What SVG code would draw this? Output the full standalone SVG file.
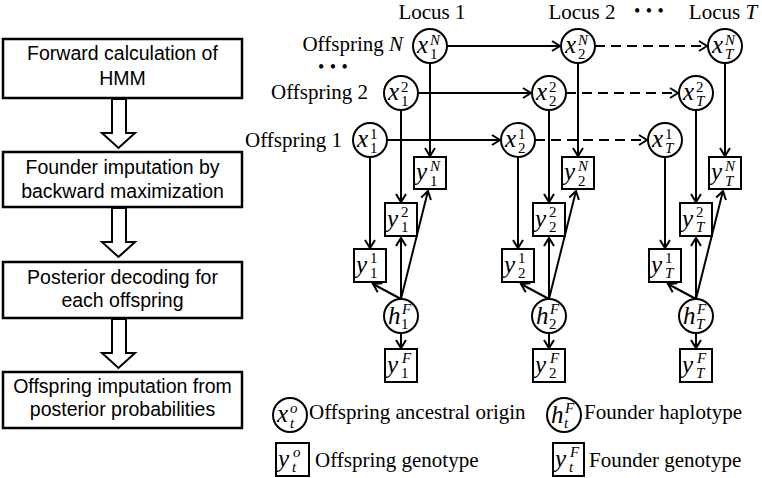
<svg xmlns="http://www.w3.org/2000/svg" width="762" height="478" viewBox="0 0 762 478">
<style>
.bx{fill:#fff;stroke:#000;stroke-width:2.5}
.ft{font-family:"Liberation Sans",Arial,sans-serif;font-size:19.5px;text-anchor:middle;fill:#000}
.ha{fill:#fff;stroke:#000;stroke-width:2;stroke-linejoin:miter}
.lb{font-family:"Liberation Serif","Times New Roman",serif;font-size:21px;fill:#000}
.nc{fill:#fff;stroke:#000;stroke-width:2}
.nb{fill:#fff;stroke:#000;stroke-width:2}
.m{font-family:"Liberation Serif","Times New Roman",serif;font-style:italic;font-size:25px;fill:#000}
.s{font-size:15px}
.sr{font-size:15px;font-style:normal}
.e{fill:none;stroke:#000;stroke-width:2}
.d{stroke-dasharray:10 6}
.dots{font-family:"Liberation Serif",serif;font-size:18px;letter-spacing:0.5px;fill:#000}
</style>
<defs>
<marker id="ar" markerUnits="userSpaceOnUse" markerWidth="12" markerHeight="12" viewBox="-10 -6 12 12" refX="0" refY="0" orient="auto">
<path d="M-8,-5 L0,0 L-8,5" fill="none" stroke="#000" stroke-width="2"/>
</marker>
</defs>

<!-- Flowchart -->
<g id="step1">
<rect class="bx" x="3" y="39" width="239" height="59"/>
<text class="ft" x="122.5" y="60">Forward calculation of</text>
<text class="ft" x="122.5" y="85">HMM</text>
</g>
<g id="step2">
<rect class="bx" x="3" y="152" width="239" height="55"/>
<text class="ft" x="122.5" y="174">Founder imputation by</text>
<text class="ft" x="122.5" y="198">backward maximization</text>
</g>
<g id="step3">
<rect class="bx" x="3" y="262" width="239" height="56"/>
<text class="ft" x="122.5" y="284">Posterior decoding for</text>
<text class="ft" x="122.5" y="307">each offspring</text>
</g>
<g id="step4">
<rect class="bx" x="3" y="372" width="239" height="56"/>
<text class="ft" x="122.5" y="393">Offspring imputation from</text>
<text class="ft" x="122.5" y="416">posterior probabilities</text>
</g>
<g id="flow-arrows">
<polygon class="ha" points="112,99 112,133 102,133 118.5,148 135,133 126,133 126,99"/>
<polygon class="ha" points="112,208 112,242 102,242 118.5,257 135,242 126,242 126,208"/>
<polygon class="ha" points="112,319 112,353 102,353 118.5,368 135,353 126,353 126,319"/>
</g>

<!-- Labels -->
<g id="labels">
<text class="lb" x="432" y="19" text-anchor="middle">Locus 1</text>
<text class="lb" x="582" y="19" text-anchor="middle">Locus 2</text>
<text class="dots" x="634" y="17">• • •</text>
<text class="lb" x="723" y="19" text-anchor="middle">Locus <tspan font-style="italic">T</tspan></text>
<text class="lb" x="403" y="51" text-anchor="end">Offspring <tspan font-style="italic">N</tspan></text>
<text class="dots" x="318" y="73">• • •</text>
<text class="lb" x="368" y="99" text-anchor="end">Offspring 2</text>
<text class="lb" x="342" y="147" text-anchor="end">Offspring 1</text>
</g>

<!-- Connectors -->
<g id="connectors">
<line class="e" x1="447" y1="46" x2="560" y2="46" marker-end="url(#ar)"/>
<line class="e d" x1="595" y1="46" x2="707" y2="46" marker-end="url(#ar)"/>
<line class="e" x1="418" y1="93" x2="531" y2="93" marker-end="url(#ar)"/>
<line class="e d" x1="566" y1="93" x2="678" y2="93" marker-end="url(#ar)"/>
<line class="e" x1="387" y1="140" x2="500" y2="140" marker-end="url(#ar)"/>
<line class="e d" x1="535" y1="140" x2="647" y2="140" marker-end="url(#ar)"/>

<line class="e" x1="430" y1="63" x2="430" y2="156" marker-end="url(#ar)"/>
<line class="e" x1="401" y1="110" x2="401" y2="202" marker-end="url(#ar)"/>
<line class="e" x1="370" y1="157" x2="370" y2="248" marker-end="url(#ar)"/>
<line class="e" x1="401" y1="299" x2="373" y2="284" marker-end="url(#ar)"/>
<line class="e" x1="401" y1="299" x2="401" y2="238" marker-end="url(#ar)"/>
<line class="e" x1="401" y1="299" x2="428" y2="191" marker-end="url(#ar)"/>
<line class="e" x1="401" y1="333" x2="401" y2="348" marker-end="url(#ar)"/>

<line class="e" x1="578" y1="63" x2="578" y2="156" marker-end="url(#ar)"/>
<line class="e" x1="549" y1="110" x2="549" y2="202" marker-end="url(#ar)"/>
<line class="e" x1="518" y1="157" x2="518" y2="248" marker-end="url(#ar)"/>
<line class="e" x1="549" y1="299" x2="521" y2="284" marker-end="url(#ar)"/>
<line class="e" x1="549" y1="299" x2="549" y2="238" marker-end="url(#ar)"/>
<line class="e" x1="549" y1="299" x2="576" y2="191" marker-end="url(#ar)"/>
<line class="e" x1="549" y1="333" x2="549" y2="348" marker-end="url(#ar)"/>

<line class="e" x1="725" y1="63" x2="725" y2="156" marker-end="url(#ar)"/>
<line class="e" x1="696" y1="110" x2="696" y2="202" marker-end="url(#ar)"/>
<line class="e" x1="665" y1="157" x2="665" y2="248" marker-end="url(#ar)"/>
<line class="e" x1="696" y1="299" x2="668" y2="284" marker-end="url(#ar)"/>
<line class="e" x1="696" y1="299" x2="696" y2="238" marker-end="url(#ar)"/>
<line class="e" x1="696" y1="299" x2="723" y2="191" marker-end="url(#ar)"/>
<line class="e" x1="696" y1="333" x2="696" y2="348" marker-end="url(#ar)"/>
</g>

<!-- Locus 1 nodes -->
<g id="x1N"><circle class="nc" cx="430" cy="46" r="17"/><text class="m" x="417" y="53">x<tspan class="s" x="430" y="45">N</tspan><tspan class="sr" x="430" y="59">1</tspan></text></g>
<g id="x12"><circle class="nc" cx="401" cy="93" r="17"/><text class="m" x="388" y="100">x<tspan class="sr" x="401" y="92">2</tspan><tspan class="sr" x="401" y="106">1</tspan></text></g>
<g id="x11"><circle class="nc" cx="370" cy="140" r="17"/><text class="m" x="357" y="147">x<tspan class="sr" x="370" y="139">1</tspan><tspan class="sr" x="370" y="153">1</tspan></text></g>
<g id="y1N"><rect class="nb" x="414" y="157" width="32" height="32"/><text class="m" x="416" y="180">y<tspan class="s" x="430" y="171">N</tspan><tspan class="sr" x="430" y="186">1</tspan></text></g>
<g id="y12"><rect class="nb" x="385" y="203" width="32" height="33"/><text class="m" x="387" y="227">y<tspan class="sr" x="401" y="217">2</tspan><tspan class="sr" x="401" y="232">1</tspan></text></g>
<g id="y11"><rect class="nb" x="354" y="249" width="32" height="33"/><text class="m" x="356" y="273">y<tspan class="sr" x="370" y="263">1</tspan><tspan class="sr" x="370" y="278">1</tspan></text></g>
<g id="h1"><circle class="nc" cx="401" cy="316" r="17"/><text class="m" x="388" y="324">h<tspan class="s" x="402" y="314">F</tspan><tspan class="sr" x="401" y="329">1</tspan></text></g>
<g id="y1F"><rect class="nb" x="385" y="349" width="32" height="33"/><text class="m" x="387" y="373">y<tspan class="s" x="402" y="363">F</tspan><tspan class="sr" x="401" y="378">1</tspan></text></g>

<!-- Locus 2 nodes -->
<g id="x2N"><circle class="nc" cx="578" cy="46" r="17"/><text class="m" x="565" y="53">x<tspan class="s" x="578" y="45">N</tspan><tspan class="sr" x="578" y="59">2</tspan></text></g>
<g id="x22"><circle class="nc" cx="549" cy="93" r="17"/><text class="m" x="536" y="100">x<tspan class="sr" x="549" y="92">2</tspan><tspan class="sr" x="549" y="106">2</tspan></text></g>
<g id="x21"><circle class="nc" cx="518" cy="140" r="17"/><text class="m" x="505" y="147">x<tspan class="sr" x="518" y="139">1</tspan><tspan class="sr" x="518" y="153">2</tspan></text></g>
<g id="y2N"><rect class="nb" x="562" y="157" width="32" height="32"/><text class="m" x="564" y="180">y<tspan class="s" x="578" y="171">N</tspan><tspan class="sr" x="578" y="186">2</tspan></text></g>
<g id="y22"><rect class="nb" x="533" y="203" width="32" height="33"/><text class="m" x="535" y="227">y<tspan class="sr" x="549" y="217">2</tspan><tspan class="sr" x="549" y="232">2</tspan></text></g>
<g id="y21"><rect class="nb" x="502" y="249" width="32" height="33"/><text class="m" x="504" y="273">y<tspan class="sr" x="518" y="263">1</tspan><tspan class="sr" x="518" y="278">2</tspan></text></g>
<g id="h2"><circle class="nc" cx="549" cy="316" r="17"/><text class="m" x="536" y="324">h<tspan class="s" x="550" y="314">F</tspan><tspan class="sr" x="549" y="329">2</tspan></text></g>
<g id="y2F"><rect class="nb" x="533" y="349" width="32" height="33"/><text class="m" x="535" y="373">y<tspan class="s" x="550" y="363">F</tspan><tspan class="sr" x="549" y="378">2</tspan></text></g>

<!-- Locus T nodes -->
<g id="xTN"><circle class="nc" cx="725" cy="46" r="17"/><text class="m" x="712" y="53">x<tspan class="s" x="725" y="45">N</tspan><tspan class="s" x="725" y="59">T</tspan></text></g>
<g id="xT2"><circle class="nc" cx="696" cy="93" r="17"/><text class="m" x="683" y="100">x<tspan class="sr" x="696" y="92">2</tspan><tspan class="s" x="696" y="106">T</tspan></text></g>
<g id="xT1"><circle class="nc" cx="665" cy="140" r="17"/><text class="m" x="652" y="147">x<tspan class="sr" x="665" y="139">1</tspan><tspan class="s" x="665" y="153">T</tspan></text></g>
<g id="yTN"><rect class="nb" x="709" y="157" width="32" height="32"/><text class="m" x="711" y="180">y<tspan class="s" x="725" y="171">N</tspan><tspan class="s" x="725" y="186">T</tspan></text></g>
<g id="yT2"><rect class="nb" x="680" y="203" width="32" height="33"/><text class="m" x="682" y="227">y<tspan class="sr" x="696" y="217">2</tspan><tspan class="s" x="696" y="232">T</tspan></text></g>
<g id="yT1"><rect class="nb" x="649" y="249" width="32" height="33"/><text class="m" x="651" y="273">y<tspan class="sr" x="665" y="263">1</tspan><tspan class="s" x="665" y="278">T</tspan></text></g>
<g id="hT"><circle class="nc" cx="696" cy="316" r="17"/><text class="m" x="683" y="324">h<tspan class="s" x="697" y="314">F</tspan><tspan class="s" x="696" y="329">T</tspan></text></g>
<g id="yTF"><rect class="nb" x="680" y="349" width="32" height="33"/><text class="m" x="682" y="373">y<tspan class="s" x="697" y="363">F</tspan><tspan class="s" x="696" y="378">T</tspan></text></g>

<!-- Legend -->
<g id="legend-x"><circle class="nc" cx="290" cy="415" r="17"/><text class="m" x="277" y="422">x<tspan class="s" x="290" y="413">o</tspan><tspan class="s" x="290" y="428">t</tspan></text><text class="lb" x="309" y="419">Offspring ancestral origin</text></g>
<g id="legend-h"><circle class="nc" cx="564" cy="415" r="17"/><text class="m" x="551" y="423">h<tspan class="s" x="565" y="413">F</tspan><tspan class="s" x="564" y="428">t</tspan></text><text class="lb" x="584" y="419">Founder haplotype</text></g>
<g id="legend-yo"><rect class="nb" x="276" y="443" width="33" height="33"/><text class="m" x="278" y="467">y<tspan class="s" x="293" y="457">o</tspan><tspan class="s" x="292" y="472">t</tspan></text><text class="lb" x="315" y="467">Offspring genotype</text></g>
<g id="legend-yF"><rect class="nb" x="553" y="443" width="31" height="33"/><text class="m" x="555" y="467">y<tspan class="s" x="570" y="457">F</tspan><tspan class="s" x="569" y="472">t</tspan></text><text class="lb" x="589" y="467">Founder genotype</text></g>
</svg>
